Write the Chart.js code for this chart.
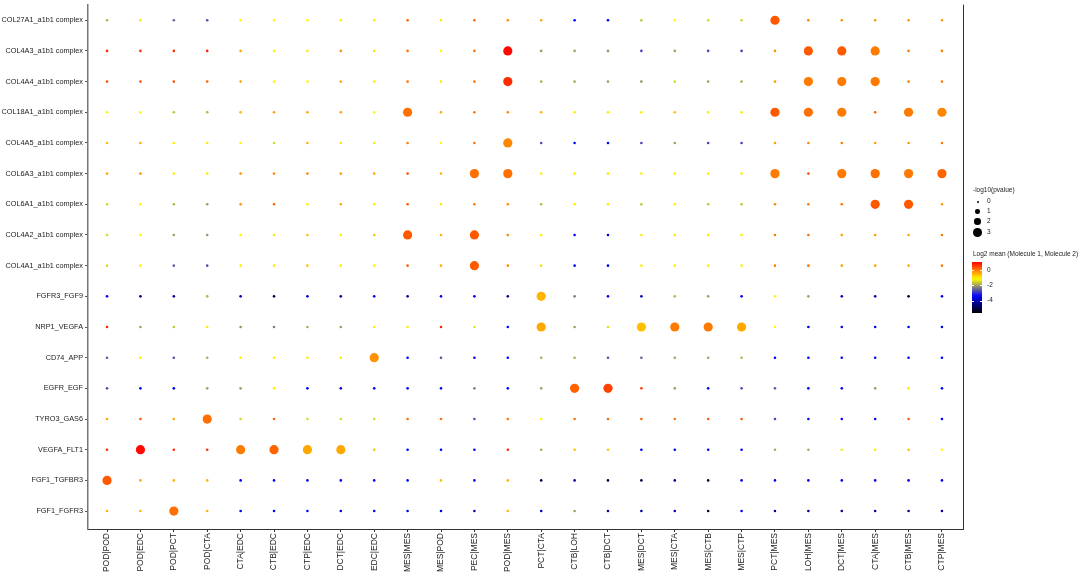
<!DOCTYPE html>
<html>
<head>
<meta charset="utf-8">
<script src="https://cdn.jsdelivr.net/npm/chart.js@4.4.1/dist/chart.umd.min.js"></script>
<style>
  body { margin: 0; background: #fff; }
  #wrap { position: relative; width: 1084px; height: 575px; font-family: "Liberation Sans", Arial, sans-serif; color: #222; }
  #chart { position: absolute; left: 0; top: 0; }
  .lg { position: absolute; font-size: 6.5px; line-height: 1; white-space: nowrap; }
  .dot { position: absolute; background: #000; border-radius: 50%; }
  #bar { position: absolute; left: 972px; top: 262px; width: 10px; height: 51px; }
  .tk { position: absolute; width: 2px; height: 1px; background: #fff; }
</style>
</head>
<body>
<div id="wrap">
  <canvas id="chart" width="1084" height="575"></canvas>
  <div class="lg" style="left:973px; top:187px;">-log10(pvalue)</div>
  <div id="sizeLegend"></div>
  <div class="lg" style="left:973px; top:251px;">Log2 mean (Molecule 1, Molecule 2)</div>
  <div id="bar"></div>
  <div id="barTicks"></div>
</div>
<script>
// cell pairs (x axis)
const pairs = ['POD|POD', 'POD|EDC', 'POD|PCT', 'POD|CTA', 'CTA|EDC', 'CTB|EDC', 'CTP|EDC', 'DCT|EDC',
  'EDC|EDC', 'MES|MES', 'MES|POD', 'PEC|MES', 'POD|MES', 'PCT|CTA', 'CTB|LOH', 'CTB|DCT', 'MES|DCT',
  'MES|CTA', 'MES|CTB', 'MES|CTP', 'PCT|MES', 'LOH|MES', 'DCT|MES', 'CTA|MES', 'CTB|MES', 'CTP|MES'];

// interacting pairs (y axis, top to bottom)
const interactions = ['COL27A1_a1b1 complex', 'COL4A3_a1b1 complex', 'COL4A4_a1b1 complex',
  'COL18A1_a1b1 complex', 'COL4A5_a1b1 complex', 'COL6A3_a1b1 complex', 'COL6A1_a1b1 complex',
  'COL4A2_a1b1 complex', 'COL4A1_a1b1 complex', 'FGFR3_FGF9', 'NRP1_VEGFA', 'CD74_APP', 'EGFR_EGF',
  'TYRO3_GAS6', 'VEGFA_FLT1', 'FGF1_TGFBR3', 'FGF1_FGFR3'];

// log2 mean (Molecule 1, Molecule 2), one row per interaction
const meanRows = [
  [-1.8,-1.3,-2.5,-2.7,-1.1,-1.2,-1.1,-1.0,-1.3,0.2,-1.0,0.2,-0.1,-0.4,-3.4,-3.4,-1.7,-1.1,-1.5,-1.5,0.3,-0.1,-0.2,-0.3,-0.3,-0.3],
  [0.7,0.7,0.7,0.8,-0.4,-1.1,-1.0,-0.2,-1.3,0.1,-1.2,0.1,1.0,-2.0,-2.0,-2.1,-2.8,-2.0,-2.8,-2.8,-0.2,0.3,0.3,0.0,0.0,0.0],
  [0.4,0.4,0.4,0.2,-0.4,-1.1,-1.1,-0.4,-1.3,0.1,-1.0,0.1,0.7,-1.9,-1.9,-2.0,-2.1,-1.5,-2.0,-1.9,-0.3,0.0,0.0,0.0,0.0,0.0],
  [-1.1,-1.1,-1.7,-1.8,-0.5,-0.3,-0.4,-0.3,-1.1,0.1,-0.4,0.1,-0.1,-0.5,-1.0,-1.0,-1.0,-0.6,-1.0,-1.0,0.3,0.1,0.0,0.2,0.0,-0.1],
  [-0.6,-0.4,-1.0,-1.0,-1.1,-1.5,-0.5,-0.9,-1.3,0.0,-1.1,0.1,-0.1,-2.7,-3.4,-3.4,-2.8,-2.0,-2.8,-2.8,-0.3,-0.1,0.0,-0.3,-0.3,0.0],
  [-0.4,-0.2,-1.0,-1.0,-0.2,-0.1,-0.1,-0.3,-0.4,0.4,-0.5,0.1,0.1,-1.0,-1.0,-1.0,-1.0,-1.0,-1.0,-1.0,0.0,0.4,0.0,0.1,0.0,0.2],
  [-1.5,-1.1,-1.8,-2.0,-0.2,0.2,-1.0,-0.4,-1.0,0.3,-1.0,0.0,-0.1,-1.8,-1.0,-1.0,-1.7,-1.0,-1.7,-1.7,-0.1,0.0,0.1,0.3,0.3,-0.3],
  [-1.5,-1.1,-2.0,-2.1,-1.1,-1.3,-0.6,-1.0,-0.6,0.3,-0.5,0.3,-0.1,-1.0,-3.5,-3.6,-1.0,-0.9,-1.0,-1.0,0.0,0.1,-0.3,-0.3,-0.4,0.0],
  [-1.5,-1.1,-2.6,-2.7,-1.0,-1.3,-0.6,-1.0,-1.0,0.3,-0.5,0.3,-0.1,-1.4,-3.5,-3.6,-1.0,-1.0,-1.0,-1.0,0.0,0.1,-0.3,-0.3,-0.4,0.0],
  [-3.4,-4.3,-4.3,-1.8,-4.0,-5.0,-3.5,-4.3,-3.5,-4.3,-3.5,-3.6,-4.3,-0.5,-2.3,-3.5,-3.9,-1.8,-2.0,-3.4,-1.1,-2.0,-4.0,-4.0,-5.2,-3.5],
  [0.8,-2.0,-1.7,-1.0,-2.1,-2.3,-1.9,-2.0,-1.0,-1.0,0.8,-1.4,-3.5,-0.4,-2.0,-1.4,-0.6,0.0,0.0,-0.4,-1.1,-3.6,-3.6,-3.6,-3.6,-3.6],
  [-2.6,-1.0,-2.7,-1.9,-1.0,-1.0,-1.0,-1.0,-0.2,-3.5,-2.7,-3.5,-3.5,-1.9,-1.9,-2.7,-2.6,-2.0,-2.0,-1.8,-3.5,-3.5,-3.5,-3.5,-3.5,-3.5],
  [-2.7,-3.5,-3.6,-2.0,-2.0,-1.0,-3.5,-3.8,-3.5,-3.5,-3.6,-2.3,-3.5,-2.0,0.2,0.5,0.5,-2.0,-3.5,-2.7,-2.6,-3.5,-3.5,-2.0,-1.0,-3.5],
  [-0.4,0.3,-0.4,0.1,-1.5,0.2,-1.5,-1.5,-1.5,0.1,0.1,-2.7,0.1,-1.1,0.1,0.2,0.2,0.1,0.3,0.3,-2.8,-3.3,-3.4,-3.4,0.3,-3.4],
  [0.7,1.0,0.7,0.7,0.0,0.2,-0.4,-0.4,-0.6,-3.5,-3.5,-3.5,0.8,-1.9,-0.6,-0.6,-3.5,-3.5,-3.5,-3.5,-1.9,-1.9,-1.3,-1.0,-0.6,-1.1],
  [0.3,-0.4,-0.5,-0.5,-3.5,-3.5,-3.5,-3.5,-3.5,-3.5,-0.6,-3.5,-0.5,-5.0,-4.2,-5.0,-5.0,-4.2,-5.2,-3.6,-3.6,-3.6,-3.6,-3.6,-3.6,-3.6],
  [-0.5,-0.5,0.1,-0.5,-3.5,-3.5,-3.5,-3.6,-3.6,-3.6,-3.6,-4.2,-0.5,-4.0,-2.0,-4.3,-4.2,-4.0,-5.2,-3.5,-4.3,-4.3,-4.3,-4.3,-4.3,-4.3]
];

// -log10(pvalue), one row per interaction
const pvalRows = [
  [0,0,0,0,0,0,0,0,0,0,0,0,0,0,0,0,0,0,0,0,3,0,0,0,0,0],
  [0,0,0,0,0,0,0,0,0,0,0,0,3,0,0,0,0,0,0,0,0,3,3,3,0,0],
  [0,0,0,0,0,0,0,0,0,0,0,0,3,0,0,0,0,0,0,0,0,3,3,3,0,0],
  [0,0,0,0,0,0,0,0,0,3,0,0,0,0,0,0,0,0,0,0,3,3,3,0,3,3],
  [0,0,0,0,0,0,0,0,0,0,0,0,3,0,0,0,0,0,0,0,0,0,0,0,0,0],
  [0,0,0,0,0,0,0,0,0,0,0,3,3,0,0,0,0,0,0,0,3,0,3,3,3,3],
  [0,0,0,0,0,0,0,0,0,0,0,0,0,0,0,0,0,0,0,0,0,0,0,3,3,0],
  [0,0,0,0,0,0,0,0,0,3,0,3,0,0,0,0,0,0,0,0,0,0,0,0,0,0],
  [0,0,0,0,0,0,0,0,0,0,0,3,0,0,0,0,0,0,0,0,0,0,0,0,0,0],
  [0,0,0,0,0,0,0,0,0,0,0,0,0,3,0,0,0,0,0,0,0,0,0,0,0,0],
  [0,0,0,0,0,0,0,0,0,0,0,0,0,3,0,0,3,3,3,3,0,0,0,0,0,0],
  [0,0,0,0,0,0,0,0,3,0,0,0,0,0,0,0,0,0,0,0,0,0,0,0,0,0],
  [0,0,0,0,0,0,0,0,0,0,0,0,0,0,3,3,0,0,0,0,0,0,0,0,0,0],
  [0,0,0,3,0,0,0,0,0,0,0,0,0,0,0,0,0,0,0,0,0,0,0,0,0,0],
  [0,3,0,0,3,3,3,3,0,0,0,0,0,0,0,0,0,0,0,0,0,0,0,0,0,0],
  [3,0,0,0,0,0,0,0,0,0,0,0,0,0,0,0,0,0,0,0,0,0,0,0,0,0],
  [0,0,3,0,0,0,0,0,0,0,0,0,0,0,0,0,0,0,0,0,0,0,0,0,0,0]
];

const sizeLevels = [0, 1, 2, 3];
const colorTicks = [0, -2, -4];
const colorStops = [[0, 0, 0], [0, 0, 255], [255, 255, 0], [255, 0, 0]];
const colorMin = -5.64, colorMax = 1.08;

function colorFor(v) {
  let t = (v - colorMin) / (colorMax - colorMin);
  t = Math.max(0, Math.min(1, t)) * (colorStops.length - 1);
  const i = Math.min(Math.floor(t), colorStops.length - 2);
  const f = t - i;
  const a = colorStops[i], b = colorStops[i + 1];
  const c = a.map((x, k) => Math.round(x + (b[k] - x) * f));
  return `rgb(${c[0]},${c[1]},${c[2]})`;
}

function radiusFor(p) {
  return 1.3 + p * 1.1;
}

const points = [];
interactions.forEach((name, row) => {
  pairs.forEach((pair, col) => {
    points.push({ x: col + 1, y: row + 1, r: radiusFor(pvalRows[row][col]), v: meanRows[row][col] });
  });
});

// right border of the panel
const borderPlugin = {
  id: 'rightBorder',
  afterDraw(chart) {
    const { ctx, chartArea } = chart;
    ctx.save();
    ctx.strokeStyle = '#333';
    ctx.lineWidth = 1;
    ctx.beginPath();
    ctx.moveTo(chartArea.right + 0.5, chartArea.top);
    ctx.lineTo(chartArea.right + 0.5, chartArea.bottom + 0.5);
    ctx.stroke();
    ctx.restore();
  }
};

const ctx = document.getElementById('chart');
new Chart(ctx, {
  type: 'bubble',
  data: {
    datasets: [{
      data: points,
      backgroundColor: (c) => c.raw ? colorFor(c.raw.v) : '#000',
      borderWidth: 0,
      hoverBorderWidth: 0,
      hoverRadius: 0
    }]
  },
  plugins: [borderPlugin],
  options: {
    responsive: false,
    animation: false,
    layout: { padding: { top: 3, right: 121, left: 0, bottom: 0 } },
    plugins: { legend: { display: false }, tooltip: { enabled: false } },
    scales: {
      x: {
        type: 'linear',
        min: 0.43,
        max: 26.63,
        afterBuildTicks: (s) => { s.ticks = pairs.map((p, i) => ({ value: i + 1 })); },
        afterFit: (s) => { s.height = 46; s.paddingLeft = 0; s.paddingRight = 0; },
        ticks: {
          autoSkip: false,
          minRotation: 90,
          maxRotation: 90,
          padding: 1,
          color: '#222',
          font: { family: '"Liberation Sans", Arial, sans-serif', size: 8.5 },
          callback: (v) => pairs[v - 1]
        },
        grid: { display: true, drawOnChartArea: false, drawTicks: true, tickLength: 3, color: '#333' },
        border: { display: true, color: '#333', width: 1 }
      },
      y: {
        type: 'linear',
        reverse: true,
        min: 0.49,
        max: 17.585,
        afterBuildTicks: (s) => { s.ticks = interactions.map((n, i) => ({ value: i + 1 })); },
        afterFit: (s) => { s.width = 88; s.paddingTop = 0; s.paddingBottom = 0; },
        ticks: {
          autoSkip: false,
          padding: 2,
          color: '#222',
          font: { family: '"Liberation Sans", Arial, sans-serif', size: 7.3 },
          callback: (v) => interactions[v - 1]
        },
        grid: { display: true, drawOnChartArea: false, drawTicks: true, tickLength: 3, color: '#555' },
        border: { display: true, color: '#777', width: 1.5 }
      }
    }
  }
});

// size legend
const sizeBox = document.getElementById('sizeLegend');
const sizeY = [201.7, 211.7, 221.7, 232.3];
sizeLevels.forEach((p, i) => {
  const r = p === 0 ? 1.1 : radiusFor(p) * 0.95;
  const d = document.createElement('div');
  d.className = 'dot';
  d.style.left = (977.7 - r) + 'px';
  d.style.top = (sizeY[i] - r) + 'px';
  d.style.width = d.style.height = (2 * r) + 'px';
  sizeBox.appendChild(d);
  const t = document.createElement('div');
  t.className = 'lg';
  t.style.left = '987px';
  t.style.top = (sizeY[i] - 3.3) + 'px';
  t.innerText = p;
  sizeBox.appendChild(t);
});

// colour bar
const steps = [];
for (let k = 0; k <= 20; k++) {
  const v = colorMax - (colorMax - colorMin) * k / 20;
  steps.push(`${colorFor(v)} ${(k * 5)}%`);
}
document.getElementById('bar').style.background = `linear-gradient(to bottom, ${steps.join(', ')})`;
const tickBox = document.getElementById('barTicks');
colorTicks.forEach((v) => {
  const y = 262 + (colorMax - v) / (colorMax - colorMin) * 51;
  ['972px', '980px'].forEach((x) => {
    const m = document.createElement('div');
    m.className = 'tk';
    m.style.left = x;
    m.style.top = y + 'px';
    tickBox.appendChild(m);
  });
  const t = document.createElement('div');
  t.className = 'lg';
  t.style.left = '987px';
  t.style.top = (y - 3.3) + 'px';
  t.innerText = v;
  tickBox.appendChild(t);
});
</script>
</body>
</html>
